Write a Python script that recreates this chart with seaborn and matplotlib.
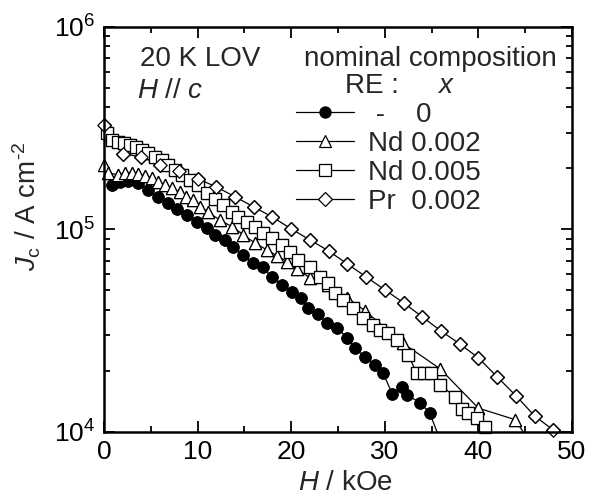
import matplotlib
matplotlib.use("Agg")
import matplotlib.pyplot as plt
import seaborn as sns
from matplotlib.ticker import LogLocator, MultipleLocator, NullFormatter

# ---- data (H in kOe, Jc in A cm^-2) ----
H_none = [0.9, 1.7, 2.6, 3.6, 4.7, 5.8, 6.8, 7.8, 8.9, 9.9, 11.0, 11.9, 12.9, 13.8, 14.9,
          15.9, 17.0, 17.9, 19.0, 20.1, 21.0, 21.8, 22.9, 23.8, 24.9, 26.0, 26.8, 27.9,
          29.0, 29.8, 30.8, 31.8, 32.4, 33.8, 34.8, 36.0]
J_none = [1.66e5, 1.72e5, 1.74e5, 1.70e5, 1.57e5, 1.45e5, 1.35e5, 1.26e5, 1.18e5, 1.09e5,
          1.02e5, 9.4e4, 8.9e4, 8.2e4, 7.5e4, 6.8e4, 6.5e4, 5.8e4, 5.3e4, 4.9e4,
          4.6e4, 4.1e4, 3.8e4, 3.45e4, 3.27e4, 2.91e4, 2.60e4, 2.34e4, 2.14e4, 1.96e4,
          1.54e4, 1.67e4, 1.52e4, 1.39e4, 1.24e4, 8.9e3]

H_nd2 = [0.0, 0.4, 1.5, 2.2, 3.0, 3.6, 4.4, 5.1, 5.8, 6.5, 7.3, 8.1, 8.8, 9.5, 10.3,
         11.1, 12.4, 13.7, 14.9, 16.1, 17.4, 18.5, 19.6, 20.6, 22.0, 23.9, 26.0, 27.9,
         31.9, 35.9, 40.0, 43.9, 48.0]
J_nd2 = [2.08e5, 1.90e5, 1.86e5, 1.90e5, 1.90e5, 1.88e5, 1.84e5, 1.80e5, 1.72e5, 1.66e5,
         1.60e5, 1.53e5, 1.45e5, 1.40e5, 1.29e5, 1.22e5, 1.11e5, 1.03e5, 9.4e4, 8.57e4,
         7.92e4, 7.4e4, 6.92e4, 6.38e4, 5.76e4, 5.32e4, 4.59e4, 3.96e4, 2.75e4, 2.05e4,
         1.31e4, 1.15e4, 6.0e3]

H_nd5 = [0.3, 0.85, 1.5, 2.1, 2.8, 3.4, 4.1, 4.7, 5.4, 6.2, 6.8, 7.6, 8.3, 9.2, 10.0,
         11.0, 11.9, 12.7, 13.7, 14.3, 15.3, 16.1, 17.0, 17.9, 19.0, 19.9, 20.7, 22.0,
         23.1, 23.9, 24.7, 25.5, 26.6, 27.7, 28.7, 29.5, 30.3, 31.3, 32.5, 33.4, 34.2,
         34.9, 35.9, 37.5, 38.2, 38.9, 39.9, 40.7]
J_nd5 = [3.00e5, 2.77e5, 2.70e5, 2.67e5, 2.61e5, 2.56e5, 2.47e5, 2.39e5, 2.28e5, 2.20e5,
         2.08e5, 1.97e5, 1.86e5, 1.76e5, 1.66e5, 1.51e5, 1.42e5, 1.32e5, 1.22e5, 1.15e5,
         1.09e5, 1.03e5, 9.6e4, 9.08e4, 8.39e4, 7.74e4, 7.07e4, 6.53e4, 5.83e4, 5.44e4,
         4.86e4, 4.49e4, 4.10e4, 3.66e4, 3.38e4, 3.19e4, 3.08e4, 2.85e4, 2.40e4, 1.96e4,
         1.96e4, 1.96e4, 1.71e4, 1.49e4, 1.29e4, 1.24e4, 1.17e4, 1.06e4]

H_pr2 = [0, 2, 4, 6, 8, 10, 12, 14, 16, 18, 20, 22, 24, 26, 28, 30, 32, 34, 36, 38,
         40, 42, 44, 46, 48]
J_pr2 = [3.28e5, 2.36e5, 2.28e5, 2.08e5, 1.95e5, 1.78e5, 1.62e5, 1.45e5, 1.29e5, 1.15e5,
         1.006e5, 8.87e4, 7.83e4, 6.75e4, 5.83e4, 5.03e4, 4.34e4, 3.70e4, 3.15e4, 2.72e4,
         2.32e4, 1.87e4, 1.51e4, 1.20e4, 1.02e4]

labels = [" -    0", "Nd 0.002", "Nd 0.005", "Pr  0.002"]
x_ticks = [0, 10, 20, 30, 40, 50]
x_lim = (0, 50)
y_lim = (1e4, 1e6)

# ---- style ----
sns.set_style("ticks")
plt.rcParams["font.family"] = ["Liberation Sans", "DejaVu Sans"]
plt.rcParams["mathtext.fontset"] = "custom"
plt.rcParams["mathtext.rm"] = "Liberation Sans"
plt.rcParams["mathtext.it"] = "Liberation Sans:italic"
plt.rcParams["mathtext.sf"] = "Liberation Sans"

fig = plt.figure(figsize=(5.94, 4.97), dpi=100)
ax = fig.add_axes([0.175, 0.131, 0.788, 0.815])

series = [
    (H_none, J_none, "o", "black", 8.0),
    (H_nd2, J_nd2, "^", "white", 8.8),
    (H_nd5, J_nd5, "s", "white", 8.3),
    (H_pr2, J_pr2, "D", "white", 6.8),
]
for (h, j, m, fc, ms), lab in zip(series, labels):
    # connecting line + markers (clipped to the axes)
    sns.lineplot(x=h, y=j, ax=ax, color="black", marker=m, markersize=ms,
                 markerfacecolor=fc, markeredgecolor="black", markeredgewidth=0.9,
                 linewidth=0.9, estimator=None, sort=False, errorbar=None, label=lab)
    # in-range markers drawn again without clipping so edge symbols show whole
    keep = [(x_lim[0] <= a <= x_lim[1]) and (y_lim[0] <= b <= y_lim[1]) for a, b in zip(h, j)]
    hx = [a for a, k in zip(h, keep) if k]
    jy = [b for b, k in zip(j, keep) if k]
    sns.scatterplot(x=hx, y=jy, ax=ax, marker=m, s=ms ** 2, facecolor=fc,
                    edgecolor="black", linewidth=0.9, clip_on=False, legend=False,
                    zorder=3)

ax.set_yscale("log")
ax.set_xlim(*x_lim)
ax.set_ylim(*y_lim)
ax.set_xticks(x_ticks)
ax.xaxis.set_minor_locator(MultipleLocator(5))
ax.yaxis.set_minor_locator(LogLocator(base=10, subs=range(2, 10)))
ax.yaxis.set_minor_formatter(NullFormatter())

for sp in ax.spines.values():
    sp.set_linewidth(1.8)
    sp.set_color("black")
    sp.set_zorder(4)
ax.tick_params(which="both", direction="in", top=True, right=True, colors="black",
               labelsize=19, width=1.3)
ax.tick_params(which="major", length=8, pad=6)
ax.tick_params(which="minor", length=4.5)

ax.set_xlabel(r"$H$ / kOe", fontsize=20)
ax.set_ylabel(r"$J_{\mathrm{c}}$ / A cm$^{\text{-2}}$", fontsize=20)
ax.xaxis.set_label_coords(0.515, -0.093)
ax.yaxis.set_label_coords(-0.130, 0.556)

handles, labs = ax.get_legend_handles_labels()
leg = ax.legend(handles[:4], labs[:4], loc="upper left", bbox_to_anchor=(0.41, 0.814),
                frameon=False, fontsize=20, handlelength=2.1, handletextpad=0.5,
                labelspacing=0.1, borderpad=0, borderaxespad=0, numpoints=1)

ax.text(0.077, 0.904, "20 K LOV", transform=ax.transAxes, fontsize=20, va="baseline")
ax.text(0.070, 0.825, r"$H$ // $c$", transform=ax.transAxes, fontsize=20, va="baseline")
ax.text(0.427, 0.904, "nominal composition", transform=ax.transAxes, fontsize=20,
        va="baseline")
ax.text(0.516, 0.837, "RE :", transform=ax.transAxes, fontsize=20, va="baseline")
ax.text(0.712, 0.837, r"$x$", transform=ax.transAxes, fontsize=20, va="baseline")

fig.savefig("out.png", dpi=100)
